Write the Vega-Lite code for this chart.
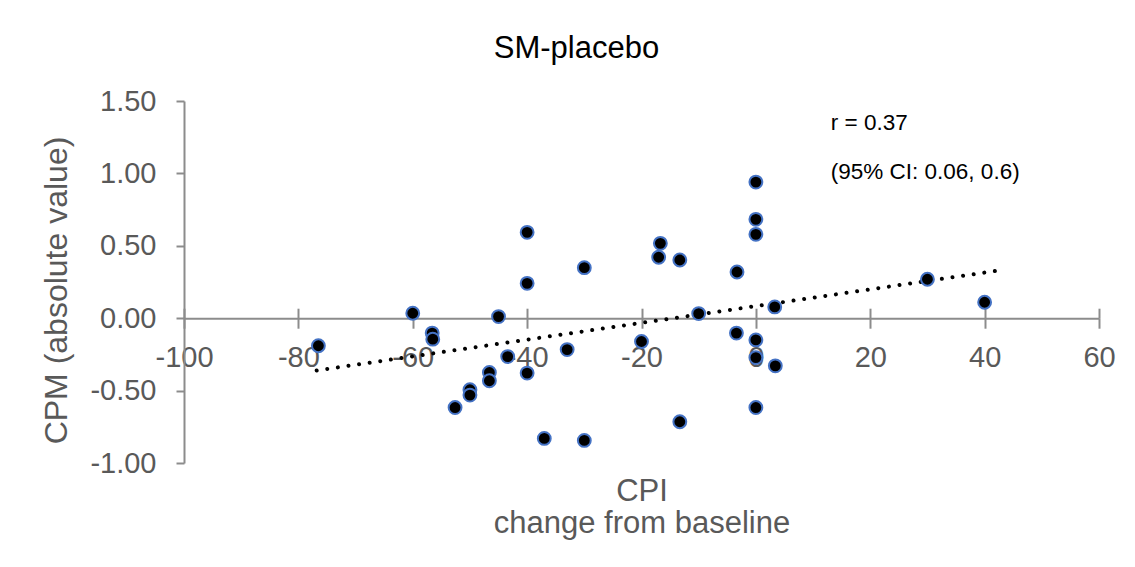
{
  "$schema": "https://vega.github.io/schema/vega-lite/v6.json",
  "width": 915,
  "height": 362,
  "autosize": {"type": "none"},
  "padding": {"left": 184, "top": 101, "right": 36, "bottom": 104},
  "background": "white",
  "config": {
    "view": {"stroke": null},
    "font": "Liberation Sans",
    "axis": {"grid": false, "domainColor": "#8c8c8c", "tickColor": "#8c8c8c", "domainWidth": 2, "tickWidth": 2, "labelColor": "#595959", "titleColor": "#595959", "labelFont": "Liberation Sans", "titleFont": "Liberation Sans", "titleFontWeight": "normal", "labelFlush": false, "labelOverlap": false}
  },
  "title": {"text": "SM-placebo", "fontSize": 31, "fontWeight": "normal", "color": "#000000", "font": "Liberation Sans", "anchor": "middle", "dx": -65, "dy": 10, "baseline": "alphabetic", "offset": 8},
  "datasets": {
    "pts": [
      {"cpi": -76.5, "cpm": -0.19},
      {"cpi": -60, "cpm": 0.034},
      {"cpi": -56.6, "cpm": -0.103},
      {"cpi": -56.5, "cpm": -0.145},
      {"cpi": -45, "cpm": 0.011},
      {"cpi": -52.6, "cpm": -0.617},
      {"cpi": -50, "cpm": -0.494},
      {"cpi": -50, "cpm": -0.531},
      {"cpi": -46.6, "cpm": -0.375},
      {"cpi": -46.6, "cpm": -0.432},
      {"cpi": -40, "cpm": 0.593},
      {"cpi": -40, "cpm": 0.241},
      {"cpi": -30, "cpm": 0.349},
      {"cpi": -33, "cpm": -0.217},
      {"cpi": -43.4, "cpm": -0.265},
      {"cpi": -40, "cpm": -0.379},
      {"cpi": -37, "cpm": -0.83},
      {"cpi": -30, "cpm": -0.844},
      {"cpi": -20, "cpm": -0.161},
      {"cpi": -16.7, "cpm": 0.517},
      {"cpi": -17, "cpm": 0.421},
      {"cpi": -13.3, "cpm": 0.402},
      {"cpi": -13.3, "cpm": -0.715},
      {"cpi": -10, "cpm": 0.032},
      {"cpi": -3.3, "cpm": 0.319},
      {"cpi": -3.4, "cpm": -0.103},
      {"cpi": 0, "cpm": 0.94},
      {"cpi": 0, "cpm": 0.683},
      {"cpi": 0, "cpm": 0.579},
      {"cpi": 0, "cpm": -0.15},
      {"cpi": 0, "cpm": -0.272},
      {"cpi": 0, "cpm": -0.617},
      {"cpi": 3.3, "cpm": 0.078},
      {"cpi": 3.4, "cpm": -0.329},
      {"cpi": 30, "cpm": 0.269},
      {"cpi": 40, "cpm": 0.11}
    ],
    "trend": [
      {"cpi": -76.8, "cpm": -0.361},
      {"cpi": 41.9, "cpm": 0.326}
    ],
    "notes": [
      {"cpi": 13.1, "cpm": 1.3, "label": "r = 0.37"},
      {"cpi": 13.1, "cpm": 0.962, "label": "(95% CI: 0.06, 0.6)"}
    ]
  },
  "layer": [
    {
      "data": {"name": "trend"},
      "mark": {"type": "line", "color": "#000000", "strokeWidth": 4, "strokeDash": [0.01, 10.7], "strokeCap": "round"},
      "encoding": {
        "x": {"field": "cpi", "type": "quantitative", "scale": {"domain": [-100, 60], "nice": false},
          "axis": {"orient": "bottom", "offset": -154.8, "values": [-100, -80, -60, -40, -20, 0, 20, 40, 60], "tickSize": 10, "domain": false, "labels": false, "title": null}},
        "y": {"field": "cpm", "type": "quantitative", "scale": {"domain": [-1, 1.5], "nice": false},
          "axis": {"values": [-1, -0.5, 0, 0.5, 1, 1.5], "format": ".2f", "labelExpr": "replace(datum.label, '\u2212', '-')", "tickSize": 8, "labelPadding": 20, "labelFontSize": 29, "labelBaseline": "middle",
            "title": "CPM (absolute value)", "titleFontSize": 32, "titleAngle": -90, "titleAlign": "center", "titleBaseline": "middle", "titleX": -128, "titleY": 189}}
      }
    },
    {
      "data": {"name": "pts"},
      "mark": {"type": "point", "shape": "circle", "filled": true, "fill": "#000000", "stroke": "#4472C4", "strokeWidth": 2, "size": 165, "opacity": 1},
      "encoding": {
        "x": {"field": "cpi", "type": "quantitative", "scale": {"domain": [-100, 60], "nice": false},
          "axis": {"orient": "bottom", "offset": -144.8, "values": [-100, -80, -60, -40, -20, 0, 20, 40, 60], "labelExpr": "replace(datum.label, '\u2212', '-')", "tickSize": 10, "labelPadding": 38.7, "labelFontSize": 29, "labelBaseline": "alphabetic",
            "title": ["CPI", "change from baseline"], "titleFontSize": 31, "titleLineHeight": 32, "titleBaseline": "alphabetic", "titleY": 182}},
        "y": {"field": "cpm", "type": "quantitative"}
      }
    },
    {
      "data": {"name": "notes"},
      "mark": {"type": "text", "align": "left", "baseline": "alphabetic", "fontSize": 22.5, "color": "#000000", "font": "Liberation Sans"},
      "encoding": {
        "x": {"field": "cpi", "type": "quantitative", "axis": null},
        "y": {"field": "cpm", "type": "quantitative"},
        "text": {"field": "label"}
      }
    }
  ],
  "resolve": {"axis": {"x": "independent"}}
}
